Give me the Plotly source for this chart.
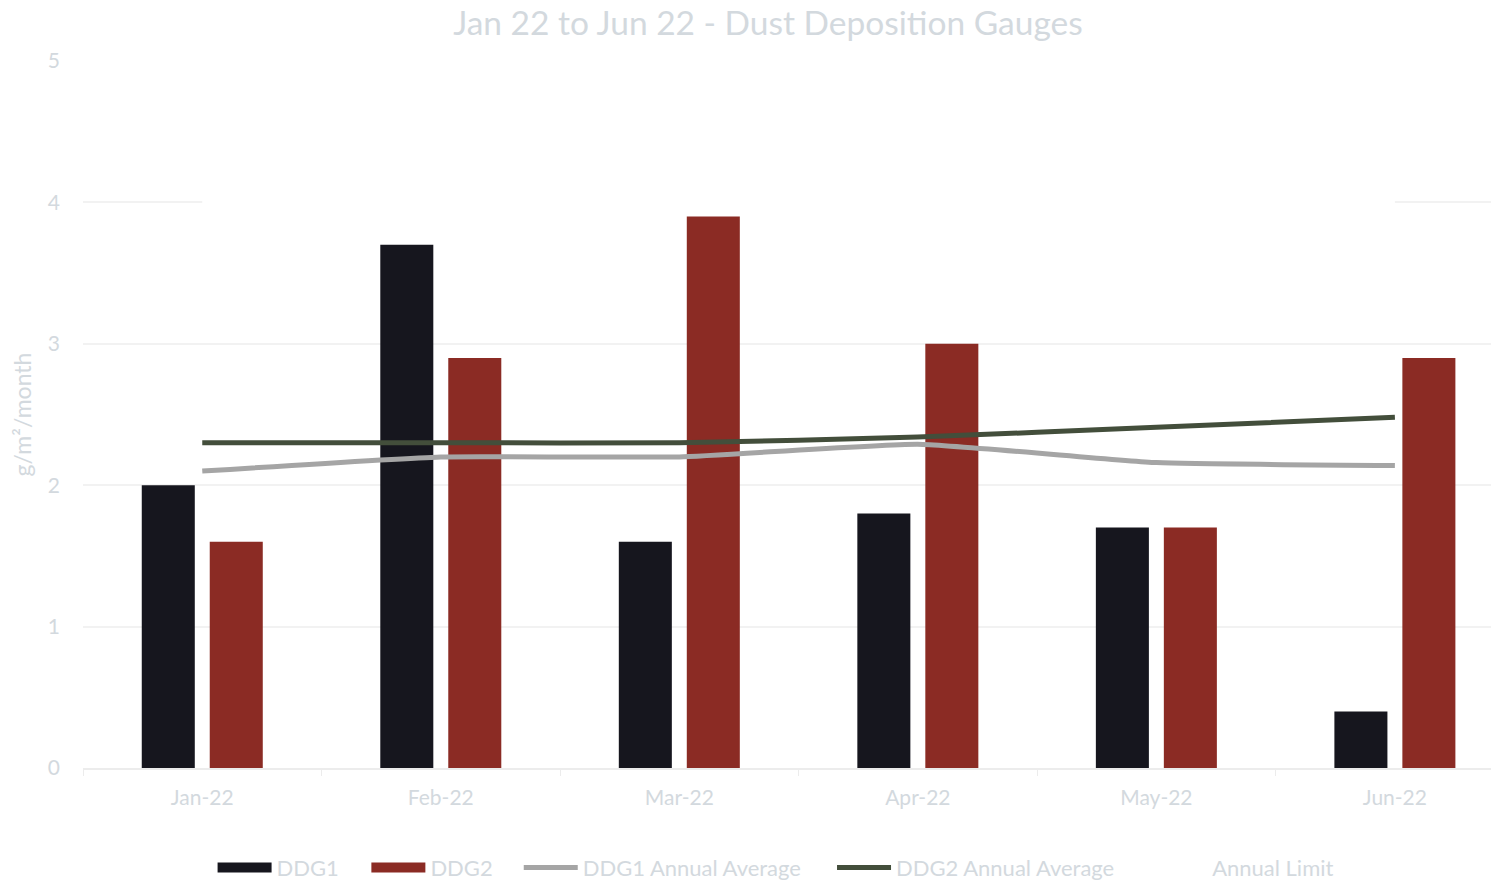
import plotly.graph_objects as go

months = ['Jan-22', 'Feb-22', 'Mar-22', 'Apr-22', 'May-22', 'Jun-22']
ddg1 = [2.0, 3.7, 1.6, 1.8, 1.7, 0.4]
ddg2 = [1.6, 2.9, 3.9, 3.0, 1.7, 2.9]
ddg1_avg = [2.10, 2.20, 2.20, 2.29, 2.16, 2.14]
ddg2_avg = [2.30, 2.30, 2.30, 2.34, 2.41, 2.48]
annual_limit = [4, 4, 4, 4, 4, 4]

font_name = 'Lato, Open Sans, sans-serif'
txt_col = '#d3d9de'
c1, c2 = '#16161e', '#8b2b24'

fig = go.Figure()
fig.add_trace(go.Bar(name='DDG1', x=months, y=ddg1, marker_color=c1,
                     marker_line_width=0, showlegend=False))
fig.add_trace(go.Bar(name='DDG2', x=months, y=ddg2, marker_color=c2,
                     marker_line_width=0, showlegend=False))
# legend proxies so the bar keys are wide rectangles
fig.add_trace(go.Scatter(name='DDG1', x=[None], y=[None], mode='lines',
                         line=dict(color=c1, width=15), legend='legend'))
fig.add_trace(go.Scatter(name='DDG2', x=[None], y=[None], mode='lines',
                         line=dict(color=c2, width=15), legend='legend2'))
fig.add_trace(go.Scatter(name='DDG1 Annual Average', x=months, y=ddg1_avg, legend='legend3',
                         mode='lines', line=dict(color='#a5a5a5', width=5, shape='spline', smoothing=0.4)))
fig.add_trace(go.Scatter(name='DDG2 Annual Average', x=months, y=ddg2_avg, legend='legend4',
                         mode='lines', line=dict(color='#434e3b', width=5, shape='spline', smoothing=0.4)))
fig.add_trace(go.Scatter(name='Annual Limit', x=months, y=annual_limit, legend='legend5',
                         mode='lines', line=dict(color='#ffffff', width=5)))

# one legend box per entry, spaced like the original
legend_x = [0.091, 0.199, 0.306, 0.526, 0.748]
legends = {}
for i, lx in enumerate(legend_x):
    key = 'legend' if i == 0 else 'legend%d' % (i + 1)
    legends[key] = dict(orientation='h', x=lx, xanchor='left', y=-0.141, yanchor='middle',
                        font=dict(size=22, color=txt_col), itemwidth=54,
                        bgcolor='rgba(0,0,0,0)')

fig.update_layout(
    width=1499, height=883,
    margin=dict(l=75, r=0, t=53, b=123, autoexpand=False),
    paper_bgcolor='white', plot_bgcolor='white',
    font=dict(family=font_name, color=txt_col, size=21),
    title=dict(text='Jan 22 to Jun 22 - Dust Deposition Gauges', x=0.507, xanchor='center',
               y=0.983, yanchor='middle', font=dict(size=33.5, color=txt_col), automargin=False),
    barmode='group', bargap=0.43, bargroupgap=0.22,
    xaxis=dict(range=[-0.5, 5.47], showgrid=False, showline=True, linecolor='#ececec', linewidth=1.5,
               ticks='outside', tickson='boundaries', ticklen=6, tickcolor='#ececec',
               ticklabelstandoff=10, tickfont=dict(size=21, color=txt_col), automargin=False),
    yaxis=dict(range=[0, 5], dtick=1, showgrid=True, gridcolor='#f2f2f2', gridwidth=1.5,
               zeroline=False, showline=False, ticklabelstandoff=22,
               tickfont=dict(size=21, color=txt_col), automargin=False,
               title=dict(text='g/m²/month', font=dict(size=23, color=txt_col), standoff=14)),
    **legends,
)

fig.write_html('out.html')
